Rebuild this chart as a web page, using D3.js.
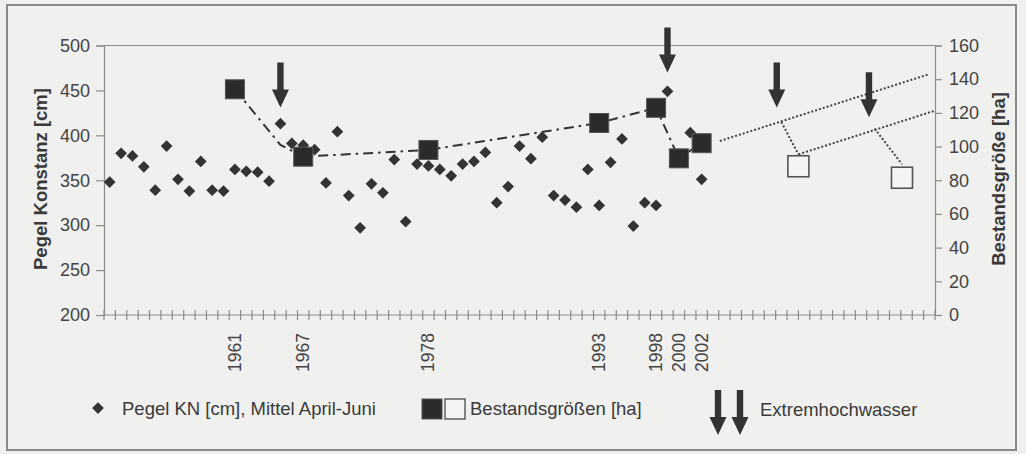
<!DOCTYPE html>
<html><head><meta charset="utf-8">
<script src="https://cdn.jsdelivr.net/npm/d3@7"></script>
<style>
body{margin:0;background:#f0f0ef;}
svg{display:block;font-family:"Liberation Sans",Arial,sans-serif;}
</style></head>
<body>
<svg id="c" width="1026" height="454"></svg>
<script>
// ---- data ----
const pegelYears = [1950,1951,1952,1953,1954,1955,1956,1957,1958,1959,1960,1961,1962,1963,1964,1965,1966,1967,1968,1969,1970,1971,1972,1973,1974,1975,1976,1977,1978,1979,1980,1981,1982,1983,1984,1985,1986,1987,1988,1989,1990,1991,1992,1993,1994,1995,1996,1997,1998,1999,2001,2002];
const pegelValues = [348,380,377,365,339,388,351,338,371,339,338,362,360,359,349,413,391,389,384,347,404,333,297,346,336,373,304,368,366,362,355,368,371,381,325,343,388,374,398,333,328,320,362,322,370,396,299,325,322,449,403,351];
const bestandYears = [1961,1967,1978,1993,1998,2000,2002];
const bestandValues = [134,94,98,114,123,93,102];
const bestandLineYears = [1961,1965,1967,1978,1993,1998,2000,2002];
const bestandLineValues = [134,101,94,98,114,123,93,102];
const projYears = [2010.5,2019.6];
const projValues = [88.3,81.5];
const projLineA = {years:[2003.6,2021.9], values:[103.3,142.8]};
const projLineB = {years:[2010.5,2022.4], values:[95.4,121.1]};
const dropA = {years:[2009.0,2010.5], values:[114.6,95.4]};
const dropB = {years:[2017.2,2019.6], values:[110.6,89.5]};
const floodYears = [1965,1999,2008.6,2016.7];
const floodTipValues = [431,470,431,420];
const yearLabels = [1961,1967,1978,1993,1998,2000,2002];
const leftTicks = [200,250,300,350,400,450,500];
const rightTicks = [0,20,40,60,80,100,120,140,160];
const firstYear = 1950, lastYear = 2022;

// ---- layout ----
const svg = d3.select("#c");
const X0 = 104, X1 = 935, YT = 45.5, YB = 315;
const x = d3.scaleLinear().domain([firstYear-0.5, lastYear+0.5]).range([X0, X1]);
const yL = d3.scaleLinear().domain([200,500]).range([YB, YT]);
const yR = d3.scaleLinear().domain([0,160]).range([YB, YT]);
const ink = "#333";
const axisCol = "#8c8c8c";

// outer frame
svg.append("rect").attr("x",7).attr("y",5).attr("width",1009).attr("height",445)
  .attr("fill","#f0f0ef").attr("stroke","#8a8a8a").attr("stroke-width",2);

// plot top border
svg.append("line").attr("x1",X0).attr("x2",X1).attr("y1",YT).attr("y2",YT)
  .attr("stroke",axisCol).attr("stroke-width",1.2);

// left axis
const gL = svg.append("g").attr("transform",`translate(${X0},0)`)
  .call(d3.axisLeft(yL).tickValues(leftTicks).tickSize(8).tickPadding(6));
gL.select(".domain").attr("stroke",axisCol).attr("stroke-width",1.2);
gL.selectAll(".tick line").attr("stroke",axisCol).attr("stroke-width",1.2);
gL.selectAll(".tick text").attr("font-size",18).attr("fill","#444")
  .attr("font-family","Liberation Sans, Arial, sans-serif");

// right axis
const gR = svg.append("g").attr("transform",`translate(${X1},0)`)
  .call(d3.axisRight(yR).tickValues(rightTicks).tickSize(7).tickPadding(7));
gR.select(".domain").attr("stroke",axisCol).attr("stroke-width",1.2);
gR.selectAll(".tick line").attr("stroke",axisCol).attr("stroke-width",1.2);
gR.selectAll(".tick text").attr("font-size",18).attr("fill","#444")
  .attr("font-family","Liberation Sans, Arial, sans-serif");

// bottom axis line with crossing ticks between categories
svg.append("line").attr("x1",X0).attr("x2",X1).attr("y1",YB).attr("y2",YB)
  .attr("stroke",axisCol).attr("stroke-width",1.2);
const boundaries = d3.range(firstYear-0.5, lastYear+1, 1);
svg.append("g").selectAll("line").data(boundaries).join("line")
  .attr("x1",d=>x(d)).attr("x2",d=>x(d)).attr("y1",YB-5).attr("y2",YB+5)
  .attr("stroke",axisCol).attr("stroke-width",1.2);
svg.append("g").selectAll("text").data(yearLabels).join("text")
  .attr("transform",d=>`translate(${x(d)},333) rotate(-90)`)
  .attr("text-anchor","end").attr("dominant-baseline","central")
  .attr("font-size",17.5).attr("fill","#444").text(d=>d);

// axis titles
svg.append("text").attr("transform","translate(40,179) rotate(-90)")
  .attr("text-anchor","middle").attr("dominant-baseline","central")
  .attr("font-size",18.5).attr("font-weight","bold").attr("fill","#3a3a3a")
  .text("Pegel Konstanz [cm]");
svg.append("text").attr("transform","translate(998,179) rotate(-90)")
  .attr("text-anchor","middle").attr("dominant-baseline","central")
  .attr("font-size",18.5).attr("font-weight","bold").attr("fill","#3a3a3a")
  .text("Bestandsgröße [ha]");

// dash-dot line of Bestand
const lineR = d3.line().x(d=>x(d[0])).y(d=>yR(d[1]));
svg.append("path").datum(d3.zip(bestandLineYears,bestandLineValues))
  .attr("d",lineR).attr("fill","none").attr("stroke",ink)
  .attr("stroke-width",2).attr("stroke-dasharray","10,5,2.5,5");

// projection dotted lines
[projLineA, projLineB, dropA, dropB].forEach(p=>{
  svg.append("path").datum(d3.zip(p.years,p.values)).attr("d",lineR)
    .attr("fill","none").attr("stroke","#444").attr("stroke-width",2)
    .attr("stroke-dasharray","2,2");
});

// diamonds
const diamond = d3.symbol().type(d3.symbolDiamond2).size(88);
svg.append("g").selectAll("path").data(d3.zip(pegelYears,pegelValues)).join("path")
  .attr("transform",d=>`translate(${x(d[0])},${yL(d[1])})`)
  .attr("d",diamond).attr("fill",ink);

// filled squares
const sq = 19;
svg.append("g").selectAll("rect").data(d3.zip(bestandYears,bestandValues)).join("rect")
  .attr("x",d=>x(d[0])-sq/2).attr("y",d=>yR(d[1])-sq/2)
  .attr("width",sq).attr("height",sq).attr("fill","#2b2b2b")
  .attr("stroke","#555").attr("stroke-width",1);

// open squares
const osq = 21;
svg.append("g").selectAll("rect").data(d3.zip(projYears,projValues)).join("rect")
  .attr("x",d=>x(d[0])-osq/2).attr("y",d=>yR(d[1])-osq/2)
  .attr("width",osq).attr("height",osq).attr("fill","#f4f4f3")
  .attr("stroke","#555").attr("stroke-width",1.6);

// arrows
function arrow(g, cx, tipY){
  const L = 45, hw = 8.5, hh = 18, sw = 3.2;
  g.append("path").attr("d",
    `M${cx-sw},${tipY-L} L${cx+sw},${tipY-L} L${cx+sw},${tipY-hh} L${cx+hw},${tipY-hh} L${cx},${tipY} L${cx-hw},${tipY-hh} L${cx-sw},${tipY-hh} Z`)
    .attr("fill",ink);
}
const gA = svg.append("g");
floodYears.forEach((yr,i)=>arrow(gA, x(yr), yL(floodTipValues[i])));

// legend
const lg = svg.append("g");
lg.append("path").attr("transform","translate(98,408)").attr("d",diamond).attr("fill",ink);
lg.append("text").attr("x",122).attr("y",408).attr("dominant-baseline","central")
  .attr("font-size",18.5).attr("fill","#3a3a3a").text("Pegel KN [cm], Mittel April-Juni");
lg.append("rect").attr("x",422).attr("y",399).attr("width",20).attr("height",20)
  .attr("fill","#2b2b2b").attr("stroke","#555");
lg.append("rect").attr("x",445).attr("y",399).attr("width",20).attr("height",20)
  .attr("fill","#f4f4f3").attr("stroke","#555").attr("stroke-width",1.4);
lg.append("text").attr("x",470).attr("y",408).attr("dominant-baseline","central")
  .attr("font-size",18.5).attr("fill","#3a3a3a").text("Bestandsgrößen [ha]");
arrow(lg, 718, 435);
arrow(lg, 740, 435);
lg.append("text").attr("x",760).attr("y",409).attr("dominant-baseline","central")
  .attr("font-size",18.5).attr("fill","#3a3a3a").text("Extremhochwasser");
</script>
</body></html>
